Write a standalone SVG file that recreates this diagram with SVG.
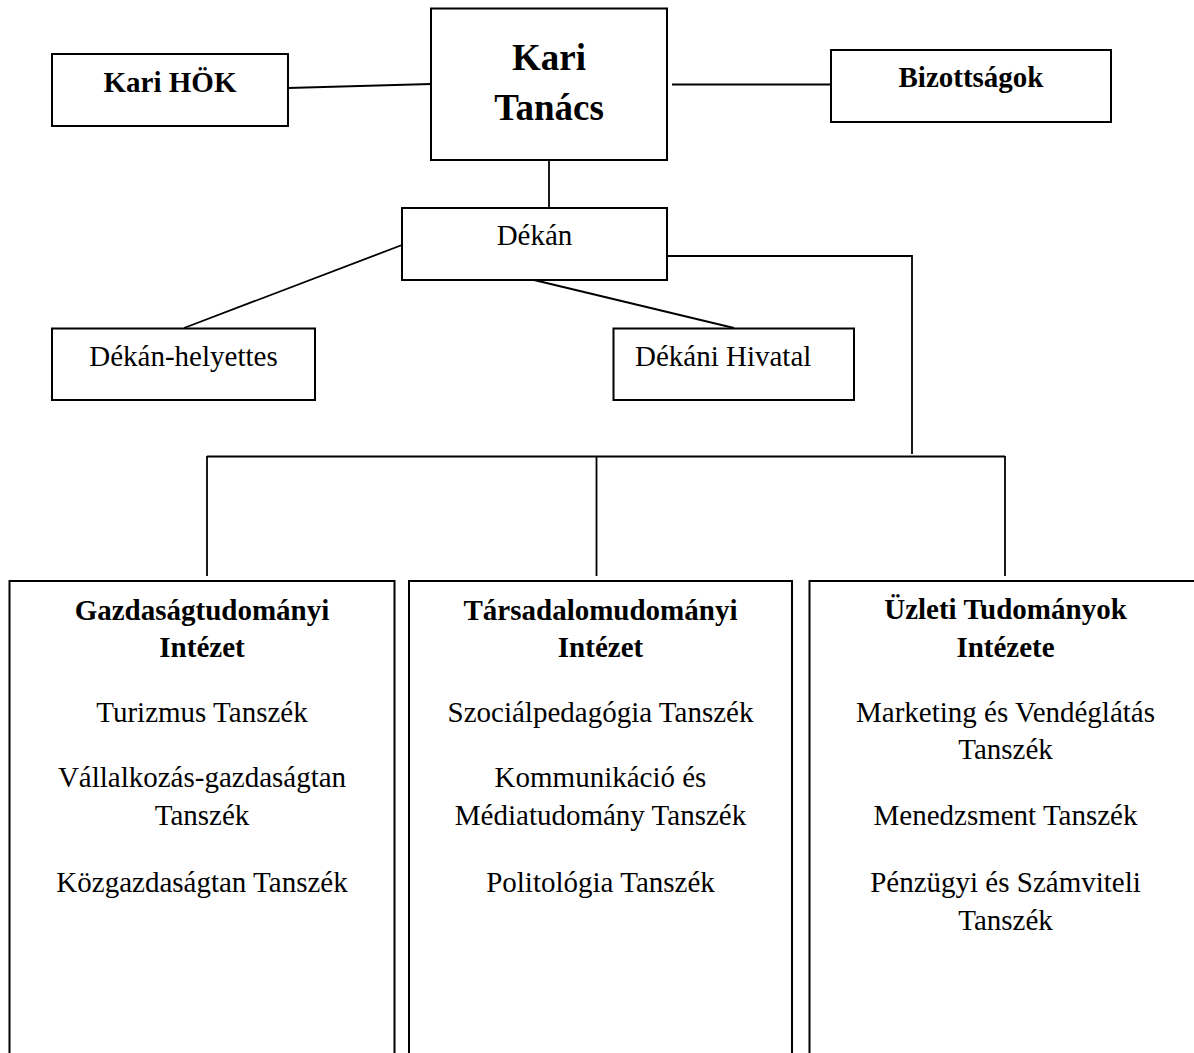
<svg xmlns="http://www.w3.org/2000/svg" width="1194" height="1053" viewBox="0 0 1194 1053">
<style>
.box{fill:#fff;stroke:#000;stroke-width:2}
.con{fill:none;stroke:#000;stroke-width:1.8}
text{font-family:"Liberation Serif","Times New Roman",serif;fill:#000;text-anchor:middle}
.b{font-weight:bold;font-size:29px}
.big{font-weight:bold;font-size:37px}
.r{font-size:29px}
</style>
<rect width="1194" height="1053" fill="#fff"/>
<g id="connectors">
<line class="con" x1="288" y1="88" x2="431" y2="84"/>
<line class="con" x1="672" y1="84.5" x2="831" y2="84.5"/>
<line class="con" x1="549" y1="160" x2="549" y2="208"/>
<line class="con" x1="402" y1="245" x2="184" y2="328"/>
<line class="con" x1="534" y1="280" x2="734" y2="328"/>
<polyline class="con" points="667,256 912,256 912,454"/>
<line class="con" x1="207" y1="456.5" x2="1005" y2="456.5"/>
<line class="con" x1="207" y1="456" x2="207" y2="576"/>
<line class="con" x1="596.5" y1="456" x2="596.5" y2="576"/>
<line class="con" x1="1005" y1="456" x2="1005" y2="576"/>
</g>
<g id="kari-hok">
<rect class="box" x="52" y="54" width="236" height="72"/>
<text class="b" x="170" y="92">Kari HÖK</text>
</g>
<g id="kari-tanacs">
<rect class="box" x="431" y="8.5" width="236" height="151.5"/>
<text class="big" x="549" y="70">Kari</text>
<text class="big" x="549" y="120">Tanács</text>
</g>
<g id="bizottsagok">
<rect class="box" x="831" y="50" width="280" height="72"/>
<text class="b" x="971" y="87">Bizottságok</text>
</g>
<g id="dekan">
<rect class="box" x="402" y="208" width="265" height="72"/>
<text class="r" x="534.5" y="245">Dékán</text>
</g>
<g id="dekan-helyettes">
<rect class="box" x="52" y="328.5" width="263" height="71.5"/>
<text class="r" x="183.5" y="366">Dékán-helyettes</text>
</g>
<g id="dekani-hivatal">
<rect class="box" x="613.5" y="328.5" width="240.5" height="71.5"/>
<text class="r" x="635" y="366" style="text-anchor:start">Dékáni Hivatal</text>
</g>
<g id="gazdasagtudomanyi">
<rect class="box" x="9.5" y="581" width="385" height="500"/>
<text class="b" x="202" y="620">Gazdaságtudományi</text>
<text class="b" x="202" y="657">Intézet</text>
<text class="r" x="202" y="722">Turizmus Tanszék</text>
<text class="r" x="202" y="787">Vállalkozás-gazdaságtan</text>
<text class="r" x="202" y="825">Tanszék</text>
<text class="r" x="202" y="892">Közgazdaságtan Tanszék</text>
</g>
<g id="tarsadalomudomanyi">
<rect class="box" x="409" y="581" width="383" height="500"/>
<text class="b" x="600.5" y="620">Társadalomudományi</text>
<text class="b" x="600.5" y="657">Intézet</text>
<text class="r" x="600.5" y="722">Szociálpedagógia Tanszék</text>
<text class="r" x="600.5" y="787">Kommunikáció és</text>
<text class="r" x="600.5" y="825">Médiatudomány Tanszék</text>
<text class="r" x="600.5" y="892">Politológia Tanszék</text>
</g>
<g id="uzleti-tudomanyok">
<rect class="box" x="809.5" y="581" width="400" height="500"/>
<text class="b" x="1005.5" y="619">Üzleti Tudományok</text>
<text class="b" x="1005.5" y="657">Intézete</text>
<text class="r" x="1005.5" y="722">Marketing és Vendéglátás</text>
<text class="r" x="1005.5" y="759">Tanszék</text>
<text class="r" x="1005.5" y="825">Menedzsment Tanszék</text>
<text class="r" x="1005.5" y="892">Pénzügyi és Számviteli</text>
<text class="r" x="1005.5" y="930">Tanszék</text>
</g>
</svg>
